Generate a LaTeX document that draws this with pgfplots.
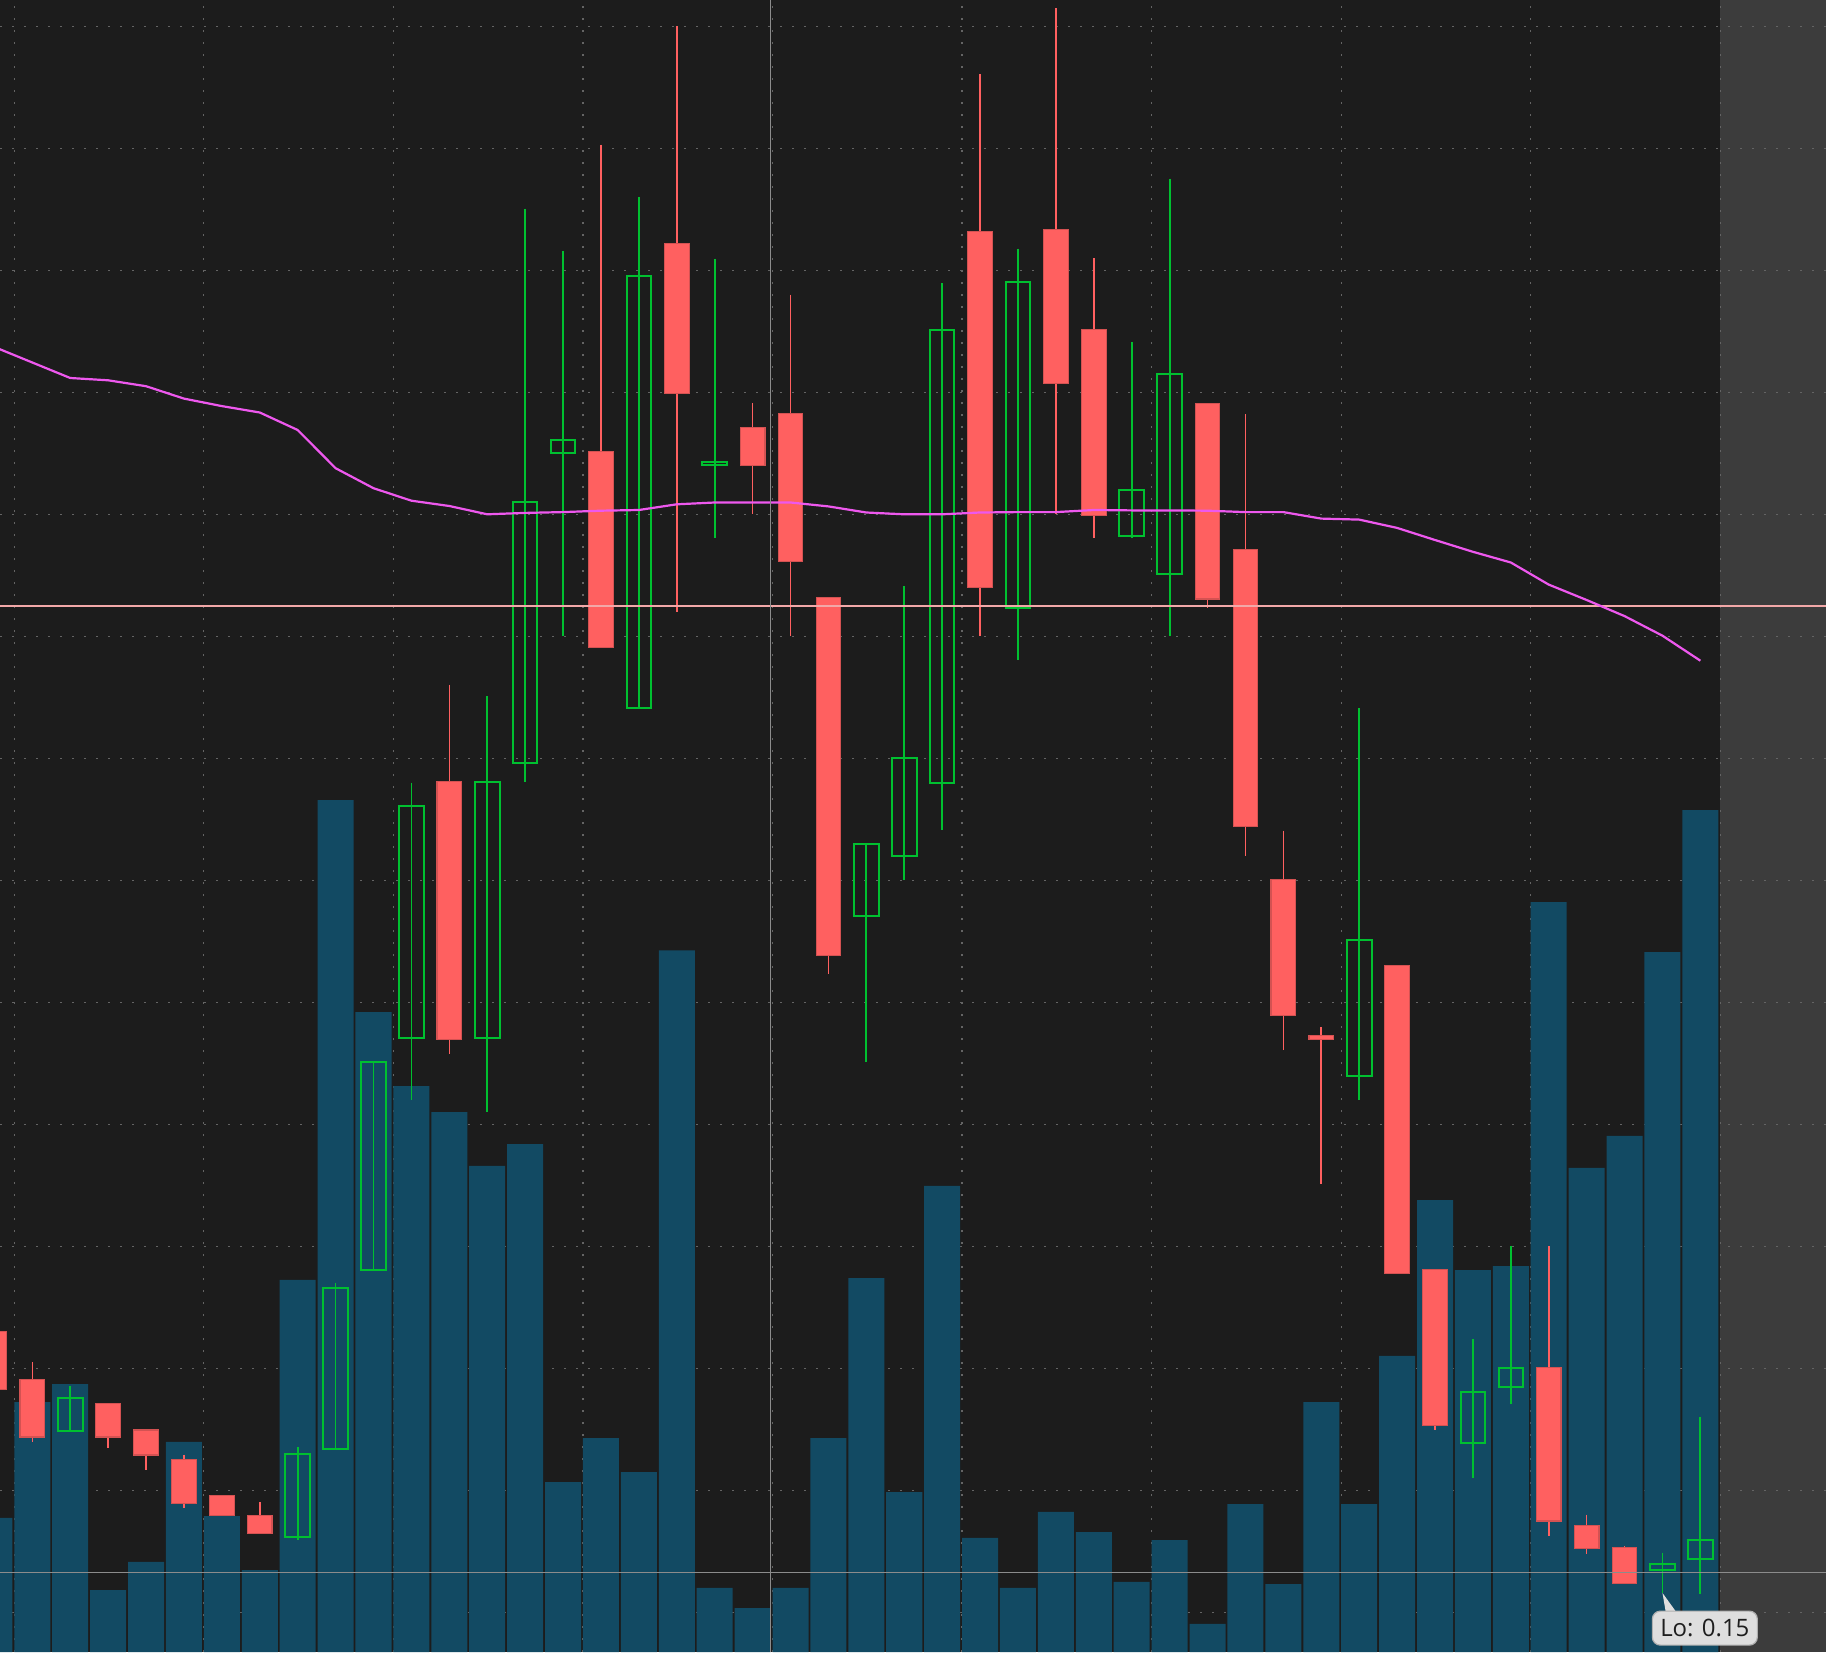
\documentclass[border=0pt]{standalone}
\usepackage{fontspec}
\setmainfont{Open Sans}
\usepackage{pgfplots}
\usepackage{pgfplotstable}
\pgfplotsset{compat=1.18}

\definecolor{bgcol}{RGB}{28,28,28}
\definecolor{stripcol}{RGB}{60,60,60}
\definecolor{gridcol}{RGB}{100,100,100}
\definecolor{volcol}{RGB}{18,74,99}
\definecolor{candred}{RGB}{255,96,96}
\definecolor{candrededge}{RGB}{212,82,82}
\definecolor{candgreen}{RGB}{0,192,48}
\definecolor{macol}{RGB}{238,88,238}
\definecolor{levelcol}{RGB}{242,168,168}
\definecolor{crosscol}{RGB}{140,140,140}
\definecolor{tipfill}{RGB}{222,222,222}
\definecolor{tipdraw}{RGB}{175,175,175}
\definecolor{tiptext}{RGB}{30,30,30}

% volume per bar (bar index, height)
\pgfplotstableread{
x vol
0 134.1
1 250.0
2 267.9
3 62.0
4 90.1
5 210.2
6 135.9
7 82.0
8 372.1
9 852.0
10 639.9
11 565.9
12 540.0
13 486.2
14 508.0
15 170.0
16 214.0
17 179.9
18 701.7
19 64.1
20 44.0
21 64.1
22 214.0
23 373.9
24 159.8
25 466.1
26 114.1
27 64.1
28 140.1
29 120.0
30 70.1
31 111.9
32 28.2
33 147.9
34 67.9
35 250.0
36 147.9
37 296.1
38 452.0
39 382.0
40 385.8
41 749.9
42 484.1
43 516.1
44 699.9
45 842.0
}\voltab

% down candles: high, open (top), close (bottom), low
\pgfplotstableread{
x high top bottom low
0 320.7 320.7 262.6 262.6
1 289.7 272.5 215.1 210.2
3 248.5 248.5 215.1 203.8
4 222.1 222.1 197.1 181.7
5 197.5 192.6 148.9 143.6
6 156.3 156.3 136.6 136.6
7 149.6 136.6 118.6 118.6
12 967.4 870.6 612.7 598.1
16 1507.4 1200.2 1004.9 1004.0
18 1625.6 1408.4 1258.8 1040.2
20 1249.1 1224.5 1186.6 1137.7
21 1357.4 1238.4 1090.6 1015.6
22 1054.5 1054.5 696.6 678.1
26 1577.7 1420.6 1064.9 1015.9
28 1643.8 1422.7 1268.8 1138.4
29 1393.8 1322.7 1136.6 1113.8
32 1248.4 1248.4 1053.1 1043.8
33 1237.7 1102.7 825.2 795.9
34 821.3 772.7 636.6 601.6
35 625.2 616.3 612.7 467.7
37 686.6 686.6 378.8 378.8
38 382.3 382.3 226.7 221.8
41 405.6 284.5 131.0 116.2
42 137.3 126.7 103.2 97.9
43 105.6 104.2 68.6 68.6
}\redtab

% up candles: high, close (top), open (bottom), low
\pgfplotstableread{
x high top bottom low
2 265.8 253.8 221.4 221.4
8 205.2 198.2 115.5 112.0
9 369.3 364.0 203.5 203.5
10 590.2 590.2 381.6 381.6
11 869.5 846.0 613.8 552.0
13 955.6 870.0 613.8 540.0
14 1443.4 1149.9 889.5 869.9
15 1401.0 1212.0 1199.1 1015.6
17 1455.2 1376.0 943.8 943.8
19 1393.4 1190.2 1186.6 1114.5
23 807.7 807.7 735.6 590.2
24 1065.6 893.8 795.6 771.6
25 1369.1 1321.6 869.5 821.6
27 1403.4 1369.9 1043.8 991.6
30 1309.5 1162.0 1115.6 1113.8
31 1473.4 1278.1 1077.7 1015.9
36 943.8 711.6 575.9 552.0
39 313.3 260.2 209.5 173.6
40 405.6 284.1 265.4 248.2
44 99.3 88.0 81.7 59.2
45 235.5 112.0 93.3 58.1
}\greentab

% moving average
\pgfplotstableread{
x ma
0 1305.0
1 1289.5
2 1274.0
3 1271.7
4 1265.8
5 1253.4
6 1245.9
7 1239.5
8 1222.0
9 1183.8
10 1163.8
11 1151.3
12 1146.0
13 1137.7
14 1139.1
15 1139.9
16 1141.3
17 1142.0
18 1147.7
19 1149.5
20 1149.5
21 1149.5
22 1145.6
23 1139.5
24 1137.7
25 1137.7
26 1139.5
27 1139.9
28 1139.9
29 1142.0
30 1141.6
31 1141.6
32 1141.3
33 1139.9
34 1139.9
35 1133.4
36 1132.4
37 1124.1
38 1112.0
39 1100.2
40 1089.5
41 1067.4
42 1052.0
43 1035.9
44 1016.3
45 991.3
}\matab

\pgfplotsset{
  wick red/.style={candred, line width=0.4pt, mark=none},
  body red/.style={fill=candred, draw=candrededge, line width=0.3pt, mark=none},
  wick green/.style={candgreen, line width=0.45pt, mark=none},
  body green/.style={draw=candgreen, fill=none, line width=0.5pt, mark=none},
}

% one wick and one body per table row
\newcommand{\candles}[3]{%
  \pgfplotstablegetrowsof{#1}%
  \pgfmathtruncatemacro{\nrows}{\pgfplotsretval-1}%
  \pgfplotsforeachungrouped \rowidx in {0,...,\nrows}{%
    \pgfplotstablegetelem{\rowidx}{x}\of{#1}\let\cX\pgfplotsretval
    \pgfplotstablegetelem{\rowidx}{high}\of{#1}\let\cH\pgfplotsretval
    \pgfplotstablegetelem{\rowidx}{top}\of{#1}\let\cT\pgfplotsretval
    \pgfplotstablegetelem{\rowidx}{bottom}\of{#1}\let\cB\pgfplotsretval
    \pgfplotstablegetelem{\rowidx}{low}\of{#1}\let\cL\pgfplotsretval
    \pgfmathsetmacro{\xl}{\cX-0.325}%
    \pgfmathsetmacro{\xr}{\cX+0.325}%
    \edef\doplot{%
      \noexpand\addplot[#2] coordinates {(\cX,\cH) (\cX,\cL)};
      \noexpand\addplot[#3] coordinates {(\xl,\cT) (\xr,\cT) (\xr,\cB) (\xl,\cB) (\xl,\cT)} -- cycle;
    }\doplot
  }%
}

\begin{document}
\begin{tikzpicture}
\begin{axis}[
  width=456.5pt, height=413pt, scale only axis,
  xmin=0.148, xmax=48.314, ymin=0, ymax=1652,
  axis line style={draw=none}, major tick length=0pt,
  xtick={0.525,5.525,10.525,15.525,20.525,25.525,30.525,35.525,40.525,45.525},
  ytick={39.6,161.6,283.6,405.6,527.6,649.6,771.6,893.6,1015.6,1137.6,1259.6,1381.6,1503.6,1625.6},
  xticklabels={}, yticklabels={},
  grid=major,
  major grid style={draw=gridcol, line width=0.3pt, dash pattern=on 0.5pt off 2.5pt},
  axis background/.style={fill=bgcol, path picture={
    \fill[stripcol] ([xshift=-26.5pt]path picture bounding box.south east) rectangle (path picture bounding box.north east);}},
]

\addplot[ybar, bar width=0.95, fill=volcol, draw=none] table[x=x, y=vol] {\voltab};

\candles{\redtab}{wick red}{body red}
\candles{\greentab}{wick green}{body green}

% reference level and moving average
\addplot[levelcol, line width=0.5pt, mark=none] coordinates {(0.148,1045.9) (48.314,1045.9)};
\addplot[macol, line width=0.55pt, mark=none] table[x=x, y=ma] {\matab};

% crosshair
\addplot[crosscol, line width=0.3pt, mark=none] coordinates {(20.467,0) (20.467,1652)};
\addplot[crosscol, line width=0.3pt, mark=none] coordinates {(0.148,79.6) (48.314,79.6)};

% tooltip
\fill[tipfill] (axis cs:44.0,59.1) -- (axis cs:44.1,37) -- (axis cs:44.42,37) -- cycle;
\node[fill=tipfill, draw=tipdraw, line width=0.3pt, rounded corners=2pt,
  minimum width=26.25pt, minimum height=8.5pt, inner sep=0pt,
  text=tiptext, font=\fontsize{6}{7}\selectfont] at (axis cs:45.118,23.9) {Lo: 0.15};
\end{axis}
\pgfresetboundingbox
\path (current axis.south west) rectangle (current axis.north east);
\end{tikzpicture}
\end{document}
